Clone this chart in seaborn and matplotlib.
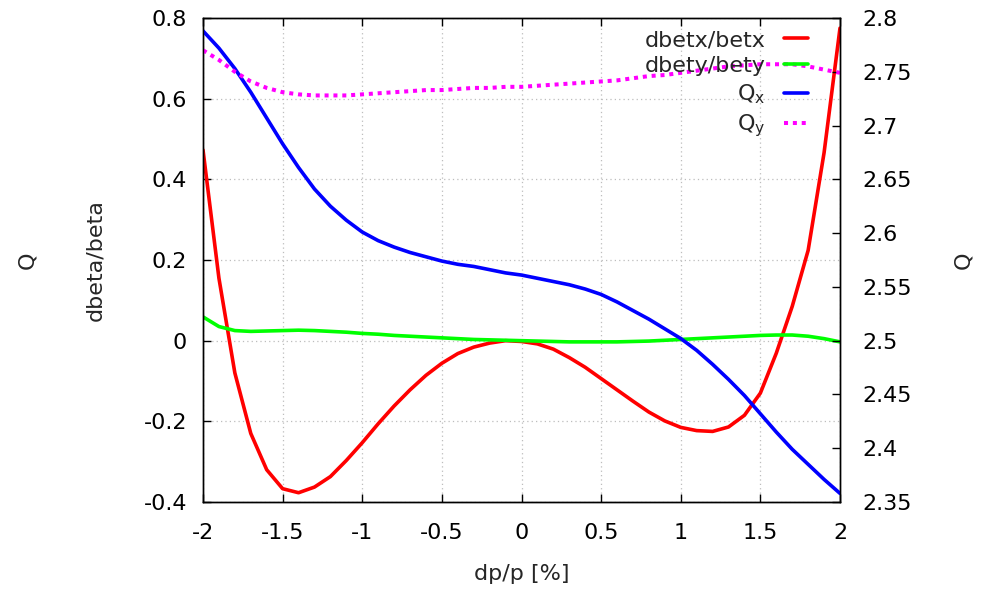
import matplotlib
matplotlib.use("Agg")
import matplotlib.pyplot as plt
import seaborn as sns

# momentum deviation dp/p [%]
dp = [-2.0, -1.9, -1.8, -1.7, -1.6, -1.5, -1.4, -1.3, -1.2, -1.1,
      -1.0, -0.9, -0.8, -0.7, -0.6, -0.5, -0.4, -0.3, -0.2, -0.1,
      0.0, 0.1, 0.2, 0.3, 0.4, 0.5, 0.6, 0.7, 0.8, 0.9,
      1.0, 1.1, 1.2, 1.3, 1.4, 1.5, 1.6, 1.7, 1.8, 1.9, 2.0]

# relative beta-beat, horizontal and vertical (left axis)
dbetx = [0.473, 0.155, -0.080, -0.230, -0.320, -0.367, -0.377, -0.363, -0.337, -0.297,
         -0.253, -0.206, -0.162, -0.122, -0.086, -0.056, -0.032, -0.016, -0.006, 0.000,
         -0.002, -0.008, -0.021, -0.042, -0.066, -0.094, -0.122, -0.150, -0.177, -0.199,
         -0.215, -0.223, -0.225, -0.214, -0.185, -0.130, -0.031, 0.085, 0.224, 0.466, 0.775]
dbety = [0.059, 0.035, 0.025, 0.023, 0.024, 0.025, 0.026, 0.025, 0.023, 0.021,
         0.018, 0.016, 0.013, 0.011, 0.009, 0.007, 0.005, 0.003, 0.002, 0.001,
         0.000, -0.001, -0.002, -0.003, -0.003, -0.003, -0.003, -0.002, -0.001, 0.001,
         0.003, 0.005, 0.007, 0.009, 0.011, 0.013, 0.014, 0.014, 0.011, 0.005, -0.003]

# tunes (right axis)
qx = [2.788, 2.772, 2.753, 2.731, 2.707, 2.683, 2.661, 2.641, 2.625, 2.612,
      2.601, 2.593, 2.587, 2.582, 2.578, 2.574, 2.571, 2.569, 2.566, 2.563,
      2.561, 2.558, 2.555, 2.552, 2.548, 2.543, 2.536, 2.528, 2.520, 2.511,
      2.502, 2.491, 2.478, 2.464, 2.449, 2.432, 2.415, 2.399, 2.385, 2.371, 2.358]
qy = [2.770, 2.761, 2.750, 2.741, 2.735, 2.731, 2.729, 2.728, 2.728, 2.728,
      2.729, 2.730, 2.731, 2.732, 2.733, 2.733, 2.734, 2.735, 2.735, 2.736,
      2.736, 2.737, 2.738, 2.739, 2.740, 2.741, 2.742, 2.744, 2.746, 2.747,
      2.749, 2.751, 2.753, 2.755, 2.756, 2.757, 2.757, 2.757, 2.755, 2.752, 2.749]

series_labels = ["dbetx/betx", "dbety/bety", r"$\mathregular{Q_x}$", r"$\mathregular{Q_y}$"]

x_ticks = [-2, -1.5, -1, -0.5, 0, 0.5, 1, 1.5, 2]
x_ticklabels = ["-2", "-1.5", "-1", "-0.5", "0", "0.5", "1", "1.5", "2"]
y1_ticks = [-0.4, -0.2, 0.0, 0.2, 0.4, 0.6, 0.8]
y1_ticklabels = ["-0.4", "-0.2", "0", "0.2", "0.4", "0.6", "0.8"]
y2_ticks = [2.35, 2.4, 2.45, 2.5, 2.55, 2.6, 2.65, 2.7, 2.75, 2.8]
y2_ticklabels = ["2.35", "2.4", "2.45", "2.5", "2.55", "2.6", "2.65", "2.7", "2.75", "2.8"]

sns.set_theme(style="ticks")
plt.rcParams["font.family"] = ["DejaVu Sans"]
plt.rcParams["mathtext.fontset"] = "dejavusans"
plt.rcParams["axes.unicode_minus"] = False
plt.rcParams["axes.edgecolor"] = "black"

FS = 16
W, H = 990, 592
fig = plt.figure(figsize=(W / 100, H / 100), dpi=100)
ax = fig.add_axes([203 / W, 1 - 502 / H, 637 / W, 484 / H])
ax2 = ax.twinx()

lw = 2.6
sns.lineplot(x=dp, y=dbetx, ax=ax, color="#ff0000", lw=lw, legend=False)
sns.lineplot(x=dp, y=dbety, ax=ax, color="#00ff00", lw=lw, legend=False)
sns.lineplot(x=dp, y=qx, ax=ax2, color="#0000ff", lw=lw, legend=False)
sns.lineplot(x=dp, y=qy, ax=ax2, color="#ff00ff", lw=lw + 0.3,
             linestyle=(0, (1, 1.2)), dash_capstyle="butt", legend=False)

ax.set_xlim(-2, 2)
ax.set_ylim(-0.4, 0.8)
ax2.set_ylim(2.35, 2.8)

ax.set_xticks(x_ticks, x_ticklabels)
ax.set_yticks(y1_ticks, y1_ticklabels)
ax2.set_yticks(y2_ticks, y2_ticklabels)

ax.grid(True, color="#bdbdbd", linestyle=(0, (1, 2.5)), lw=0.9)
ax.set_axisbelow(True)

ax.tick_params(axis="x", direction="in", top=True, bottom=True, length=6, width=1,
               pad=15, labelsize=FS, colors="black")
ax.tick_params(axis="y", direction="in", left=True, right=False, length=6, width=1,
               pad=11.5, labelsize=FS, colors="black")
ax2.tick_params(axis="y", direction="in", right=True, length=6, width=1,
                pad=16, labelsize=FS, colors="black")

for a in (ax, ax2):
    for s in a.spines.values():
        s.set_color("black")
        s.set_linewidth(1.0)

ax.set_xlabel("dp/p [%]", fontsize=FS, va="center")
ax.xaxis.set_label_coords(0.5, -(574 - 502) / 484)
ax.set_ylabel("dbeta/beta", fontsize=FS, va="center")
ax.yaxis.set_label_coords((95 - 203) / 637, 0.5)
ax2.set_ylabel("Q", fontsize=FS, va="center", rotation=90)
ax2.yaxis.set_label_coords((963 - 203) / 637, 0.5)
fig.text(27 / W, 1 - 260 / H, "Q", fontsize=FS, rotation=90, ha="center", va="center")

handles = ax.get_lines()[:2] + ax2.get_lines()[:2]
fig.legend(handles, series_labels, loc="upper right",
           bbox_to_anchor=(808 / W, 1 - 30 / H), frameon=False, markerfirst=False,
           handlelength=1.1, handletextpad=0.8, labelspacing=0.28,
           borderpad=0, borderaxespad=0, fontsize=FS)

fig.savefig("out.png", dpi=100)
